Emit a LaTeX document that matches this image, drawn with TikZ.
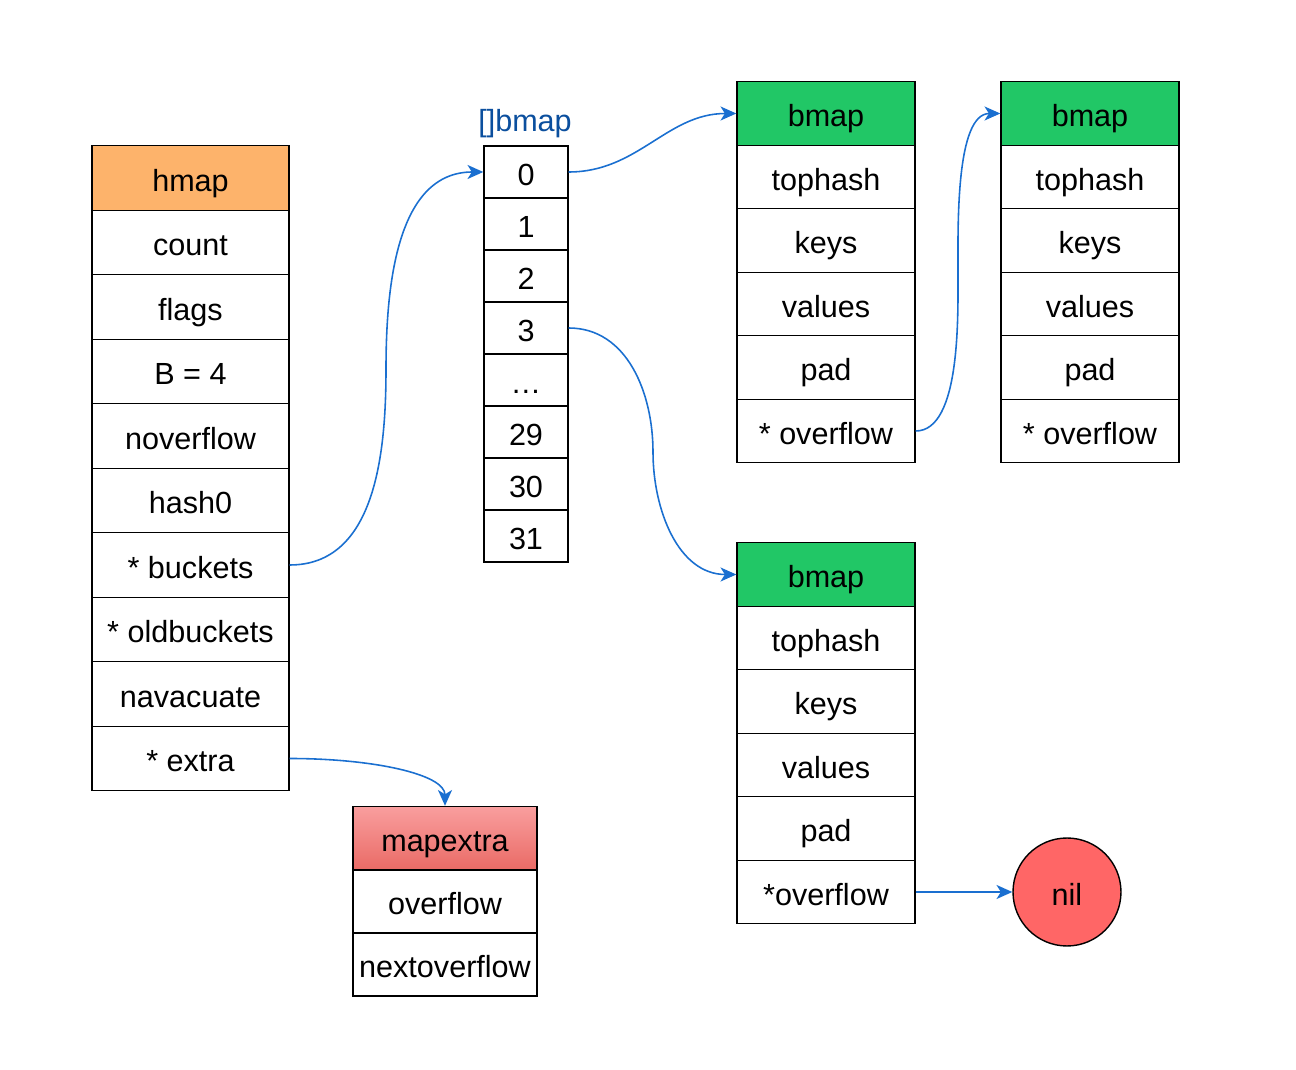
\documentclass[tikz,border=0pt]{standalone}
\usepackage{fontspec}
\setmainfont{Liberation Sans}
\usetikzlibrary{arrows.meta}
\definecolor{hmapfill}{HTML}{FDB36B}
\definecolor{bmapfill}{HTML}{21C766}
\definecolor{nilfill}{HTML}{FF6666}
\definecolor{linkblue}{HTML}{1A6FD0}
\definecolor{labelblue}{HTML}{0B4F9E}
\definecolor{extratop}{HTML}{F99E9E}
\definecolor{extrabot}{HTML}{EA6B66}

\begin{document}
\begin{tikzpicture}[x=0.02cm,y=-0.02cm,
  every node/.style={font=\fontsize{17.4}{20}\selectfont,text height=15pt,text depth=0pt},
  box/.style={draw,line width=0.8pt,inner sep=0pt},
  hcell/.style={box,minimum width=3.94cm,minimum height=1.29cm},
  acell/.style={box,minimum width=1.68cm,minimum height=1.04cm},
  bcell/.style={box,minimum width=3.56cm,minimum height=1.27cm},
  ecell/.style={box,minimum width=3.68cm,minimum height=1.26cm},
  link/.style={draw=linkblue,line width=0.9pt,-{Stealth[length=9pt,width=8pt,inset=2.5pt]}}]
\useasboundingbox (0,0) rectangle (1296,1070);

\node[hcell,fill=hmapfill] (h0) at (190.5,178) {hmap};
\foreach \t [count=\i] in {count,flags,B = 4,noverflow,hash0,* buckets,* oldbuckets,navacuate,* extra}
  \node[hcell] (h\i) at (190.5,{178+64.5*\i}) {\t};

\node[text=labelblue] (lbl) at (525,118) {[]bmap};
\foreach \t [count=\i from 0] in {0,1,2,3,\dots,29,30,31}
  \node[acell] (a\i) at (526,{172+52*\i}) {\t};

\foreach \n/\x/\y/\o in {b/826/113.5/* overflow,c/1090/113.5/* overflow,d/826/574.5/*overflow}{
  \node[bcell,fill=bmapfill] (\n0) at (\x,\y) {bmap};
  \foreach \t [count=\i] in {tophash,keys,values,pad,\o}
    \node[bcell] (\n\i) at (\x,{\y+63.5*\i}) {\t};
}

\node[ecell,top color=extratop,bottom color=extrabot] (e0) at (445,838) {mapextra};
\node[ecell] (e1) at (445,901.5) {overflow};
\node[ecell] (e2) at (445,964.5) {nextoverflow};

\node[draw,circle,fill=nilfill,line width=0.8pt,minimum size=2.16cm,inner sep=0pt] (nil) at (1067,892) {nil};

\coordinate (m1) at (386,369);
\coordinate (m2) at (653,452);
\coordinate (m3) at (958,272);
\draw[link] (h6.east) to[out=0,in=-90] (m1) to[out=90,in=180] (a0.west);
\draw[link] (a0.east) to[out=0,in=180] (b0.west);
\draw[link] (a3.east) to[out=0,in=90] (m2) to[out=-90,in=180] (d0.west);
\draw[link] (b5.east) to[out=0,in=-90,looseness=0.7] (m3) to[out=90,in=180,looseness=0.7] (c0.west);
\draw[link] (h9.east) to[out=0,in=90,out looseness=1.3,in looseness=0.5] (e0.north);
\draw[link] (d5.east) -- (nil);
\end{tikzpicture}
\end{document}
